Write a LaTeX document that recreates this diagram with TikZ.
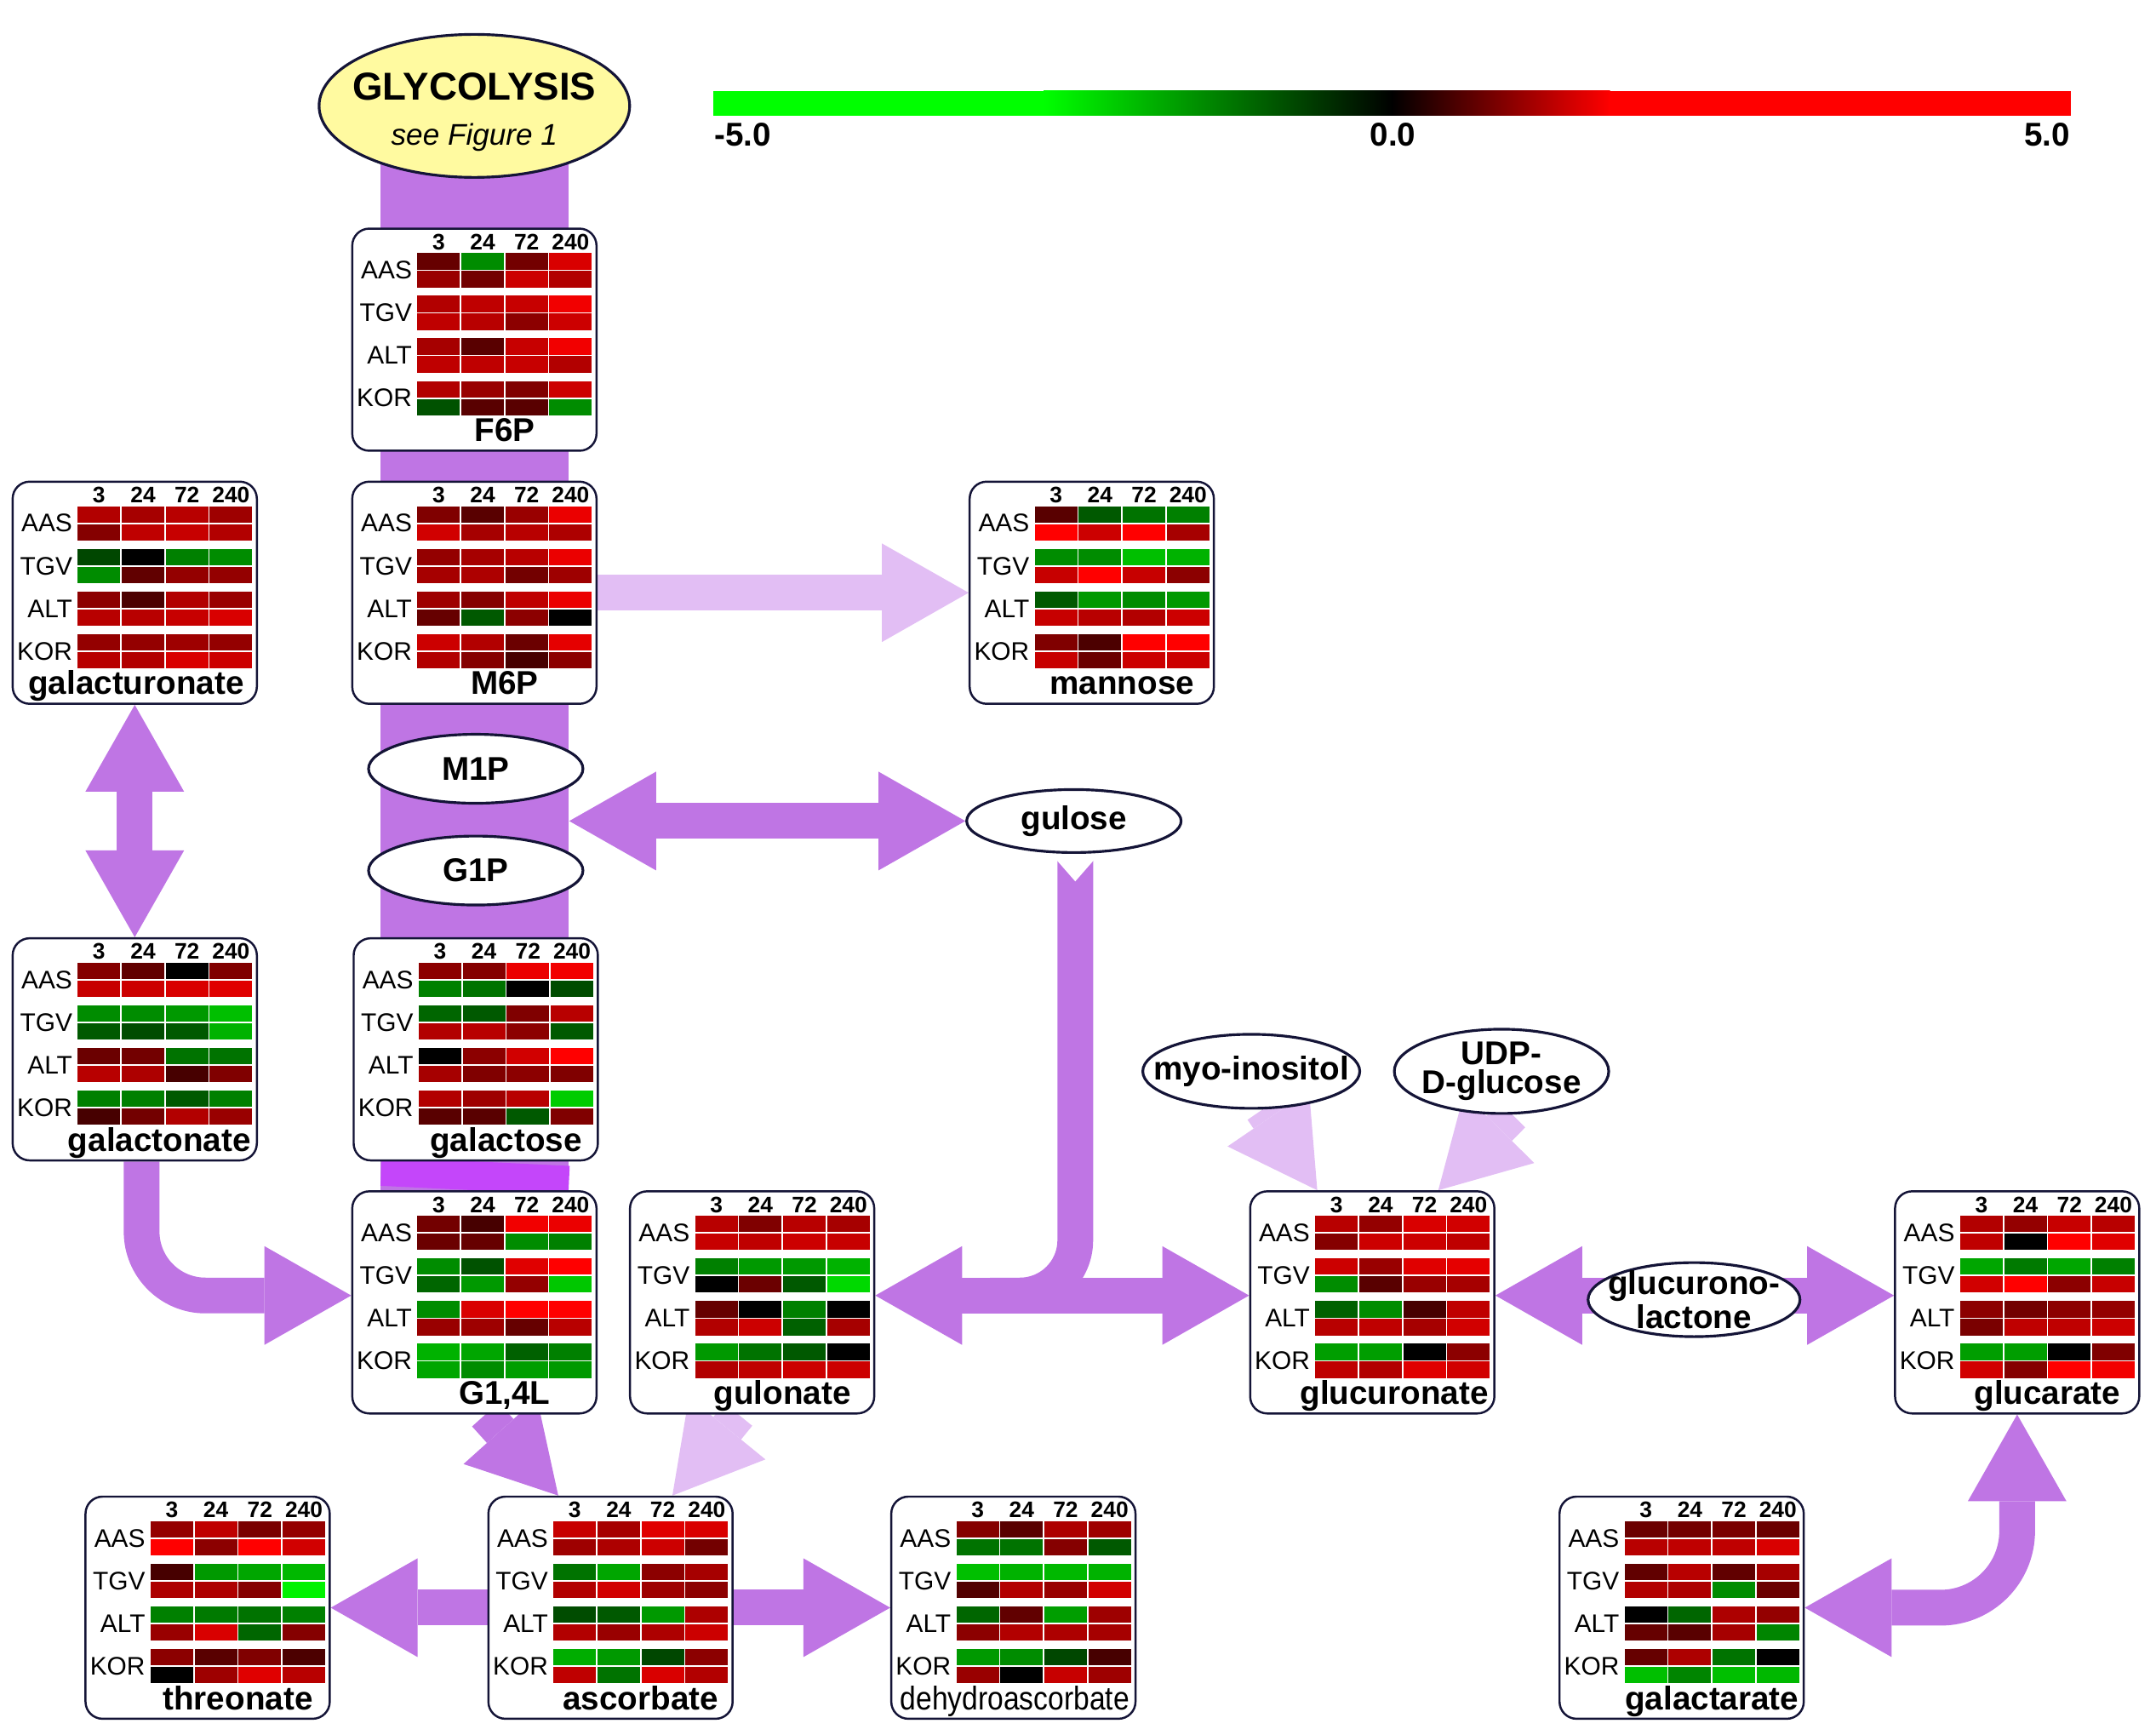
\documentclass[tikz,border=0pt]{standalone}
\usepackage{fontspec}
\setmainfont{Liberation Sans}
\usetikzlibrary{shapes.geometric,arrows.meta,calc,backgrounds}

\definecolor{navy}{RGB}{20,20,55}
\definecolor{pathway}{RGB}{191,117,228}
\definecolor{lightpath}{RGB}{226,190,244}
\definecolor{brightpath}{RGB}{196,70,250}
\definecolor{glyyellow}{RGB}{255,250,160}

\tikzset{
  metabox/.style={draw=navy, line width=0.7pt, fill=white, rounded corners=0.2cm,
    minimum width=2.87cm, minimum height=2.61cm, inner sep=0pt},
  colhead/.style={anchor=base, inner sep=0pt, font=\bfseries\fontsize{7.5}{8}\selectfont},
  rowhead/.style={anchor=east, inner sep=0pt, font=\fontsize{8.5}{9}\selectfont},
  boxname/.style={anchor=base, inner sep=0pt, font=\bfseries\fontsize{11}{12}\selectfont},
  cell/.style={draw=white, line width=0.5pt},
  sugar/.style={ellipse, draw=navy, line width=0.9pt, fill=white, inner sep=0pt},
  sugartext/.style={inner sep=0pt, align=center, font=\bfseries\fontsize{11}{9.6}\selectfont},
  scalelab/.style={inner sep=0pt, font=\bfseries\fontsize{11}{12}\selectfont},
  flow/.style={draw=pathway, line width=0.42cm, >={Triangle[length=1.02cm,width=1.16cm,line width=0pt]}},
  lightflow/.style={flow, draw=lightpath},
  mainflow/.style={draw=pathway, line width=2.21cm},
}

% box with 4 x 8 heat cells, values in percent (+ red, - green)
\newcommand{\metabox}[6][0]{%
  \node[metabox] (#2) at (#3,#4) {};
  \foreach \hd [count=\cl from 0] in {3,24,72,240}
    \node[colhead] at (#3-26+\cl*32,#4-65.5) {\hd};
  \foreach \lab [count=\grp from 0] in {AAS,TGV,ALT,KOR}
    \node[rowhead] at (#3-45,#4-50.5+\grp*31) {\lab};
  \foreach \val [count=\idx from 0] in {#6} {
    \pgfmathtruncatemacro\cl{mod(\idx,4)}
    \pgfmathtruncatemacro\rw{int(\idx/4)}
    \pgfmathsetmacro\ytop{#4-63.5+int(\rw/2)*31+mod(\rw,2)*13}
    \ifnum\val<0
      \pgfmathtruncatemacro\amt{abs(\val)}
      \def\cellshade{green!\amt!black}
    \else
      \def\cellshade{red!\val!black}
    \fi
    \filldraw[cell,fill=\cellshade] (#3-42+\cl*32,\ytop) rectangle ++(32,13);
  }
  \node[boxname] at (#3+22+#1,#4+74) {#5};
}

\begin{document}
\begin{tikzpicture}[x=0.016155cm, y=-0.016155cm]
\useasboundingbox (0,0) rectangle (1568,1261);

\node[sugar, fill=glyyellow, minimum width=3.65cm, minimum height=1.68cm,
  label={[inner sep=0pt, align=center, yshift=-2pt]center:{{\bfseries\fontsize{13}{14}\selectfont GLYCOLYSIS}\\[3pt]{\itshape\fontsize{10}{11}\selectfont see Figure 1}}}] (glycolysis) at (345,77) {};

\fill[green] (519,66) rectangle (760,84);
\shade[left color=green, right color=black] (759,66) rectangle (1013,84);
\shade[left color=black, right color=red] (1012,66) rectangle (1171,84);
\fill[red] (1170,66) rectangle (1506,84);
\node[scalelab, anchor=base west] (scalemin) at (519,106) {-5.0};
\node[scalelab, anchor=base] (scalezero) at (1013,106) {0.0};
\node[scalelab, anchor=base east] (scalemax) at (1506,106) {5.0};

\metabox{f6p}{345}{247}{F6P}{40,-55,45,85,
  60,45,80,70,
  70,75,78,95,
  75,72,55,80,
  65,35,78,95,
  75,75,78,70,
  70,60,50,80,
  -32,35,35,-55}
\metabox[-21]{galacturonate}{98}{431}{galacturonate}{70,65,72,62,
  52,75,78,70,
  -28,0,-50,-55,
  -55,38,58,58,
  55,30,70,60,
  72,72,78,85,
  58,58,62,58,
  72,70,85,80}
\metabox{m6p}{345}{431}{M6P}{50,35,60,92,
  82,65,72,68,
  58,65,72,92,
  65,68,45,62,
  62,52,75,92,
  40,-35,55,0,
  80,70,42,90,
  70,52,28,55}
\metabox{mannose}{794}{431}{mannose}{35,-35,-45,-50,
  100,80,100,65,
  -55,-55,-75,-70,
  78,100,78,55,
  -35,-60,-55,-60,
  78,72,70,80,
  50,30,100,100,
  78,42,80,80}
\metabox[-4]{galactonate}{98}{763}{galactonate}{52,38,0,50,
  78,80,85,88,
  -55,-55,-60,-75,
  -35,-30,-35,-70,
  42,45,-45,-45,
  72,68,28,50,
  -50,-50,-35,-50,
  28,45,70,60}
\metabox{galactose}{346}{763}{galactose}{55,52,92,95,
  -50,-45,0,-30,
  -40,-35,50,72,
  70,72,55,-35,
  0,55,82,100,
  65,50,55,50,
  70,62,72,-80,
  35,35,-35,50}
\metabox{g14l}{345}{947}{G1,4L}{45,28,95,92,
  42,40,-55,-50,
  -55,-32,88,100,
  -40,-60,58,-78,
  -55,85,100,100,
  60,62,40,72,
  -70,-65,-38,-50,
  -65,-55,-62,-60}
\metabox{gulonate}{547}{947}{gulonate}{72,50,72,65,
  78,75,80,78,
  -50,-60,-60,-70,
  0,42,-35,-85,
  40,0,-50,0,
  70,80,-38,65,
  -60,-45,-35,0,
  70,75,80,80}
\metabox[-6]{glucuronate}{998}{947}{glucuronate}{72,58,85,82,
  52,80,80,75,
  80,60,88,90,
  -55,35,60,65,
  -38,-55,28,75,
  72,75,65,82,
  -62,-62,0,55,
  75,70,88,82}
\metabox{glucarate}{1467}{947}{glucarate}{70,58,78,72,
  75,0,100,88,
  -65,-48,-65,-50,
  82,100,55,78,
  55,45,55,58,
  48,75,75,80,
  -62,-62,0,50,
  82,52,100,95}
\metabox{threonate}{151}{1169}{threonate}{58,75,48,58,
  100,55,100,82,
  28,-60,-65,-72,
  68,68,52,-95,
  -50,-48,-45,-50,
  60,85,-40,52,
  55,35,50,30,
  0,62,88,72}
\metabox{ascorbate}{444}{1169}{ascorbate}{78,65,88,85,
  62,68,80,45,
  -45,-65,55,65,
  70,82,62,55,
  -30,-35,-60,68,
  70,60,68,80,
  -68,-60,-28,55,
  75,-45,85,70}
\metabox[-21]{dehydro}{737}{1169}{\mdseries\scalebox{0.87}[1]{dehydroascorbate}}{52,35,68,62,
  -45,-45,52,-35,
  -75,-70,-72,-70,
  32,70,60,82,
  -40,38,-62,62,
  55,70,68,65,
  -60,-55,-28,28,
  60,0,78,62}
\metabox{galactarate}{1223}{1169}{galactarate}{42,45,48,42,
  72,75,75,85,
  38,72,38,65,
  70,68,-55,42,
  0,-40,68,58,
  40,35,65,-52,
  40,68,-45,0,
  -75,-52,-75,-72}

\node[sugar, minimum width=2.52cm, minimum height=0.81cm, label={[sugartext]center:M1P}] (m1p) at (346,559) {};
\node[sugar, minimum width=2.52cm, minimum height=0.81cm, label={[sugartext]center:G1P}] (g1p) at (346,633) {};
\node[sugar, minimum width=2.52cm, minimum height=0.74cm, label={[sugartext]center:gulose}] (gulose) at (781,597) {};
\node[sugar, minimum width=2.55cm, minimum height=0.87cm, label={[sugartext]center:myo-inositol}] (myo) at (910,779) {};
\node[sugar, minimum width=2.52cm, minimum height=0.99cm, label={[sugartext]center:{UDP-\\D-glucose}}] (udp) at (1092,779) {};
\node[sugar, minimum width=2.49cm, minimum height=0.87cm, label={[sugartext]center:{glucurono-\\lactone}}] (lactone) at (1232,945) {};

\coordinate (barjoin) at (414,597);
\coordinate (split) at (720,942);

\begin{scope}[on background layer]
  \draw[mainflow] (glycolysis.center) -- (g14l.center);
  \draw[mainflow, draw=brightpath] (galactose.south) -- (g14l.north);
  \draw[lightflow, ->] (m6p.east) -- (mannose.west);
  \draw[flow, <->] (barjoin) -- (gulose.west);
  \draw[flow, rounded corners=0.65cm] ($(gulose.south)+(1,5)$) |- (split);
  \fill[white] ($(gulose.south)+(-13,4)$) -- ($(gulose.south)+(15,4)$) -- ($(gulose.south)+(1,20)$) -- cycle;
  \draw[flow, <->] ($(gulonate.east)+(0,-5)$) -- ($(glucuronate.west)+(0,-5)$);
  \draw[flow, <->] (galacturonate.south) -- (galactonate.north);
  \draw[flow, ->, rounded corners=0.75cm] ($(galactonate.south)+(5,0)$) |- ($(g14l.west)+(0,-5)$);
  \draw[flow, ->] ($(g14l.south)+(8,0)$) -- ($(ascorbate.north)+(-38,0)$);
  \draw[lightflow, ->] ($(gulonate.south)+(-10,0)$) -- ($(ascorbate.north)+(45,0)$);
  \draw[flow, ->] (ascorbate.west) -- (threonate.east);
  \draw[flow, ->] (ascorbate.east) -- (dehydro.west);
  \draw[lightflow, ->] ($(myo.south)+(8,0)$) -- ($(glucuronate.north)+(-40,0)$);
  \draw[lightflow, ->] ($(udp.south)+(8,0)$) -- ($(glucuronate.north)+(48,0)$);
  \draw[flow, <->] ($(glucuronate.east)+(0,-5)$) -- ($(glucarate.west)+(0,-5)$);
  \draw[flow, <->, rounded corners=0.9cm] (galactarate.east) -| (glucarate.south);
\end{scope}
\end{tikzpicture}
\end{document}
